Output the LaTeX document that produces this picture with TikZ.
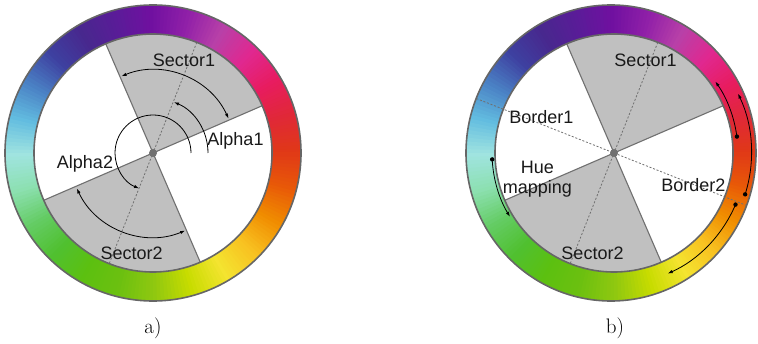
\documentclass[tikz,border=0pt]{standalone}
\usepackage{fontspec}
\newfontfamily\arialf{Liberation Sans}
\usetikzlibrary{arrows.meta}
\definecolor{h0}{HTML}{E03818}
\definecolor{h1}{HTML}{E02838}
\definecolor{h2}{HTML}{E81C60}
\definecolor{h3}{HTML}{E02890}
\definecolor{h4}{HTML}{B840A8}
\definecolor{h5}{HTML}{9020A8}
\definecolor{h6}{HTML}{7010A0}
\definecolor{h7}{HTML}{5A1C98}
\definecolor{h8}{HTML}{48288E}
\definecolor{h9}{HTML}{3E40A0}
\definecolor{h10}{HTML}{4A80C4}
\definecolor{h11}{HTML}{62BCE0}
\definecolor{h12}{HTML}{A0E4E0}
\definecolor{h13}{HTML}{8CE0B0}
\definecolor{h14}{HTML}{64CC64}
\definecolor{h15}{HTML}{50C030}
\definecolor{h16}{HTML}{5CC010}
\definecolor{h17}{HTML}{6CC010}
\definecolor{h18}{HTML}{90C810}
\definecolor{h19}{HTML}{C8DC00}
\definecolor{h20}{HTML}{F4E430}
\definecolor{h21}{HTML}{F8C020}
\definecolor{h22}{HTML}{F08C00}
\definecolor{h23}{HTML}{E85808}
\definecolor{sectorgrey}{HTML}{C0C0C0}
\definecolor{edgegrey}{HTML}{707070}
\definecolor{rimgrey}{HTML}{666666}
\newcommand\ringwedges[1]{%
  \foreach \i in {0,...,23}{%
    \pgfmathtruncatemacro\j{mod(\i+1,24)}%
    \foreach \k in {0,...,9}{%
      \pgfmathtruncatemacro\p{100-10*\k}%
      \pgfmathsetmacro\a{\i*15+\k*1.5}%
      \fill[fill=h\i!\p!h\j] (#1) -- +(\a:160) arc[start angle=\a, delta angle=2.0, radius=160] -- cycle;
    }%
  }%
}
\newcommand\wheelbody[1]{%
  \fill[white] (#1) circle[radius=119];
  \fill[sectorgrey] (#1) -- +(23.4:119) arc[start angle=23.4, end angle=113.4, radius=119] -- cycle;
  \fill[sectorgrey] (#1) -- +(203.4:119) arc[start angle=203.4, end angle=293.4, radius=119] -- cycle;
  \draw[sectoredge] (#1) ++(23.4:119) -- ++(203.4:238);
  \draw[sectoredge] (#1) ++(113.4:119) -- ++(293.4:238);
  \draw[dashline] (#1) ++(68.4:119) -- ++(248.4:238);
}
\begin{document}
\begin{tikzpicture}[x=1pt,y=1pt,
  sectoredge/.style={draw=edgegrey, line width=1.1pt},
  dashline/.style={draw=edgegrey, line width=0.8pt, dash pattern=on 2pt off 1.8pt},
  rim/.style={draw=rimgrey, line width=1.6pt},
  arcline/.style={draw=black, line width=0.8pt},
  tip/.tip={Latex[length=5pt,width=3.4pt]},
  txt/.style={font=\arialf\fontsize{18}{21}\selectfont, inner sep=0pt, anchor=base, text=black!90},
  captxt/.style={font=\fontsize{21}{24}\selectfont, inner sep=0pt, anchor=base}]
\useasboundingbox (0,0) rectangle (758,343);
\coordinate (C1) at (153,190);
\coordinate (C2) at (614,190);
% ---------- left wheel ----------
\begin{scope}
  \clip (C1) circle[radius=148];
  \ringwedges{C1}
\end{scope}
\wheelbody{C1}
\draw[rim] (C1) circle[radius=148];
\draw[rim] (C1) circle[radius=119];
\fill[edgegrey] (C1) circle[radius=4];
\draw[arcline, tip-tip] (C1) ++(24.5:83) arc[start angle=24.5, end angle=112.3, radius=83];
\draw[arcline, tip-tip] (C1) ++(205:84) arc[start angle=205, end angle=292.5, radius=84];
\draw[arcline, -tip] (C1) ++(0:55) arc[start angle=0, end angle=67.5, radius=55];
\draw[arcline, -tip] (C1) ++(0:38) arc[start angle=0, end angle=248.4, radius=38];
\node[txt] (s1a) at (184,276) {Sector1};
\node[txt] (al1) at (235.5,197.5) {Alpha1};
\node[txt] (al2) at (85,174.7) {Alpha2};
\node[txt] (s2a) at (131.7,83) {Sector2};
\node[captxt] (capa) at (153,9.7) {a)};
% ---------- right wheel ----------
\begin{scope}
  \clip (611,190) ellipse[x radius=145, y radius=148];
  \ringwedges{C2}
\end{scope}
\wheelbody{C2}
\begin{scope}
  \clip (611,190) ellipse[x radius=145, y radius=148];
  \draw[dashline] (C2) ++(158.4:148) -- ++(338.4:300);
\end{scope}
\draw[rim] (611,190) ellipse[x radius=145, y radius=148];
\draw[rim] (C2) circle[radius=119];
\fill[edgegrey] (C2) circle[radius=4];
\draw[arcline, -tip] (C2) ++(7.6:124) arc[start angle=7.6, end angle=35.2, radius=124];
\fill (C2) ++(7.6:124) circle[radius=2.2];
\draw[arcline, -tip] (C2) ++(-17.5:137.5) arc[start angle=-17.5, end angle=25.6, radius=137.5];
\fill (C2) ++(-17.5:137.5) circle[radius=2.2];
\draw[arcline, -tip] (C2) ++(-23:132) arc[start angle=-23, end angle=-66, radius=132];
\fill (C2) ++(-23:132) circle[radius=2.2];
\draw[arcline, -tip] (C2) ++(183:122) arc[start angle=183, end angle=211.5, radius=122];
\fill (C2) ++(183:122) circle[radius=2.2];
\node[txt] (s1b) at (645.5,276.3) {Sector1};
\node[txt] (b1) at (541.3,219.7) {Border1};
\node[txt] (hue) at (537.5,169) {Hue};
\node[txt] (map) at (537.3,149.7) {mapping};
\node[txt] (b2) at (693.3,151.3) {Border2};
\node[txt] (s2b) at (592.5,83) {Sector2};
\node[captxt] (capb) at (615,10) {b)};
\end{tikzpicture}
\end{document}
